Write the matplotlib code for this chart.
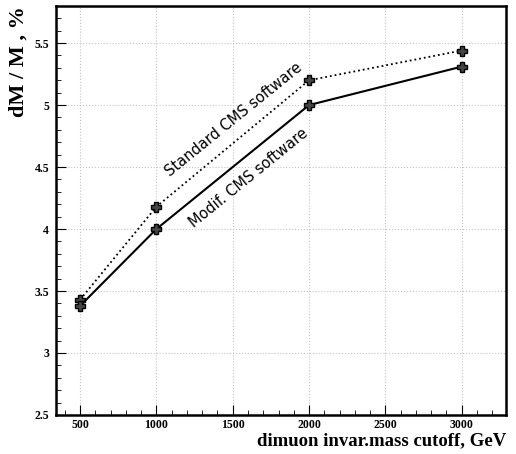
import matplotlib
matplotlib.use("Agg")
import matplotlib.pyplot as plt
from matplotlib.ticker import MultipleLocator

cutoff = [500, 1000, 2000, 3000]
standard = [3.43, 4.18, 5.20, 5.44]
modif = [3.38, 4.00, 5.00, 5.31]
xticks = [500, 1000, 1500, 2000, 2500, 3000]
yticks = [2.5, 3, 3.5, 4, 4.5, 5, 5.5]

serif = "Liberation Serif"

fig = plt.figure(figsize=(5.16, 4.54), dpi=100)
ax = fig.add_axes([0.1085, 0.086, 0.872, 0.901])

ax.plot(cutoff, standard, color="black", linestyle=":", linewidth=1.3,
        marker="P", markersize=7, markerfacecolor="#444444", markeredgecolor="black")
ax.plot(cutoff, modif, color="black", linestyle="-", linewidth=1.5,
        marker="P", markersize=7, markerfacecolor="#444444", markeredgecolor="black")

ax.set_xlim(342, 3290)
ax.set_ylim(2.5, 5.8)
ax.set_xticks(xticks)
ax.set_xticklabels([str(v) for v in xticks])
ax.set_yticks(yticks)
ax.set_yticklabels(["2.5", "3", "3.5", "4", "4.5", "5", "5.5"])
ax.xaxis.set_minor_locator(MultipleLocator(100))
ax.yaxis.set_minor_locator(MultipleLocator(0.1))
ax.tick_params(which="major", direction="in", length=7, width=0.8, labelsize=8.5, pad=5)
ax.tick_params(axis="x", which="major", pad=3)
ax.tick_params(which="minor", direction="in", length=3.5, width=0.6)
for lbl in ax.get_xticklabels() + ax.get_yticklabels():
    lbl.set_fontfamily(serif)
    lbl.set_fontweight("bold")
for s in ax.spines.values():
    s.set_linewidth(1.8)

ax.grid(True, which="major", color="#c4c4c4", linestyle=":", linewidth=0.8)

ax.set_xlabel("dimuon invar.mass cutoff, GeV", fontfamily=serif, fontweight="bold",
              fontsize=13.5, loc="right", labelpad=1)
ax.set_ylabel("dM / M , %", fontfamily=serif, fontweight="bold",
              fontsize=16, loc="top", labelpad=4)

ax.text(1507, 4.88, "Standard CMS software", rotation=39, fontsize=10.5,
        ha="center", va="center", family="DejaVu Sans")
ax.text(1604, 4.41, "Modif. CMS software", rotation=39, fontsize=10.5,
        ha="center", va="center", family="DejaVu Sans")

fig.savefig("out.png", dpi=100)
